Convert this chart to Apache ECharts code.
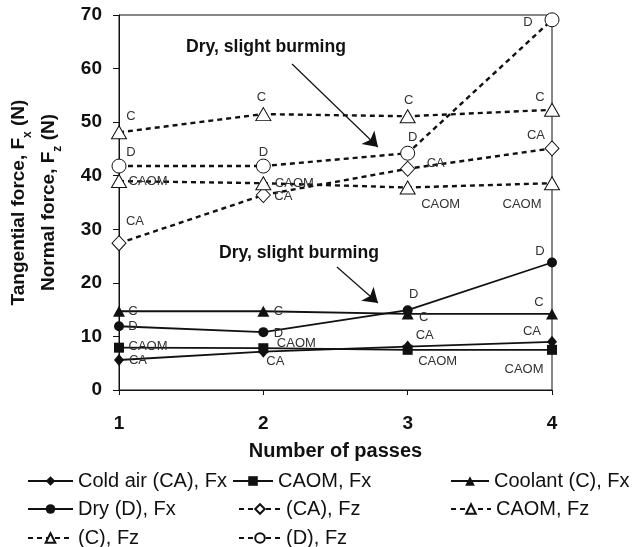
<!DOCTYPE html>
<html>
<head>
<meta charset="utf-8">
<script src="https://cdn.jsdelivr.net/npm/echarts@6/dist/echarts.min.js"></script>
<style>
  html, body { margin: 0; padding: 0; background: #fff; }
  #chart { width: 633px; height: 547px; }
</style>
</head>
<body>
<div id="chart"></div>
<script>
// Cutting forces per pass for four cooling conditions
const passes = [1, 2, 3, 4];

const fxColdAir = [5.6, 7.15, 8.1, 9.0];
const fxCaom = [7.9, 7.8, 7.5, 7.5];
const fxCoolant = [14.7, 14.7, 14.2, 14.2];
const fxDry = [11.9, 10.8, 14.9, 23.8];

const fzColdAir = [27.4, 36.4, 41.3, 45.1];
const fzCaom = [39.0, 38.6, 37.8, 38.6];
const fzCoolant = [48.1, 51.5, 51.1, 52.3];
const fzDry = [41.8, 41.8, 44.2, 69.1];

const seriesNames = [
  'Cold air (CA), Fx', 'CAOM, Fx', 'Coolant (C), Fx', 'Dry (D), Fx',
  '(CA), Fz', 'CAOM, Fz', '(C), Fz', '(D), Fz'
];
const pointTags = ['CA', 'CAOM', 'C', 'D', 'CA', 'CAOM', 'C', 'D'];

const noteText = 'Dry, slight burming';

// label placement (pixel offsets from each marker)
const tagOffsets = [
  [[19, 0], [12, 10], [17, -11], [-20, -10]],
  [[29, -1], [33, -5], [30, 12], [-28, 20]],
  [[14, 0], [15, 0], [16, 3], [-13, -12]],
  [[14, 0], [15, 1], [6, -16], [-12, -11]],
  [[16, -22], [20, 1], [28, -5], [-16, -13]],
  [[29, 0], [31, 0], [33, 17], [-30, 21]],
  [[12, -16], [-2, -17], [1, -16], [-12, -12]],
  [[12, -14], [0, -14], [5, -16], [-24, 3]]
];

// legend slots: [series index, left, top, icon width]
const legendSlots = [
  [0, 27, 471, 45], [1, 232, 471, 40], [2, 450, 471, 38],
  [3, 27, 499, 45], [4, 238, 499, 42], [5, 450, 499, 40],
  [6, 27, 528, 45], [7, 238, 528, 42]
];

const FONT = 'Liberation Sans, Arial, sans-serif';
const INK = '#111';

function points(values, idx) {
  return values.map((v, i) => ({
    value: [passes[i], v],
    label: { offset: tagOffsets[idx][i] }
  }));
}

function makeSeries(idx, values, opts) {
  const dashed = idx >= 4;
  return Object.assign({
    name: seriesNames[idx],
    type: 'line',
    data: points(values, idx),
    symbolKeepAspect: true,
    lineStyle: dashed
      ? { color: INK, width: 2.4, type: [5, 4] }
      : { color: INK, width: 1.8, type: 'solid' },
    itemStyle: dashed
      ? { color: '#fff', borderColor: INK, borderWidth: 1 }
      : { color: INK, borderColor: INK, borderWidth: 0 },
    label: {
      show: true,
      position: 'inside',
      formatter: pointTags[idx],
      color: '#333',
      fontFamily: FONT,
      fontSize: 13,
      align: 'center',
      verticalAlign: 'middle'
    },
    emphasis: { disabled: true },
    animation: false
  }, opts);
}

const series = [
  makeSeries(0, fxColdAir, { symbol: 'diamond', symbolSize: [10, 12], z: 5 }),
  makeSeries(1, fxCaom, { symbol: 'rect', symbolSize: 10, z: 5 }),
  makeSeries(2, fxCoolant, { symbol: 'triangle', symbolSize: [12, 11], z: 5 }),
  makeSeries(3, fxDry, { symbol: 'circle', symbolSize: 10, z: 5 }),
  makeSeries(4, fzColdAir, { symbol: 'diamond', symbolSize: [14, 15] }),
  makeSeries(5, fzCaom, { symbol: 'triangle', symbolSize: [15, 13] }),
  makeSeries(6, fzCoolant, { symbol: 'triangle', symbolSize: [15, 13] }),
  makeSeries(7, fzDry, { symbol: 'circle', symbolSize: 14 })
];

// two callouts, each a bold note with an arrow toward the Dry curves
const notes = [
  { text: [2.018, 64.0], from: [2.199, 60.85], to: [2.794, 45.36] },
  { text: [2.247, 25.6], from: [2.510, 22.96], to: [2.794, 16.24] }
];
series.push({
  type: 'line',
  name: 'notes',
  data: [],
  silent: true,
  markLine: {
    silent: true,
    symbol: ['none', 'arrow'],
    symbolSize: 14,
    label: { show: false },
    lineStyle: { color: INK, width: 1.2, type: 'solid' },
    itemStyle: { color: INK },
    emphasis: { disabled: true },
    data: notes.map(n => [{ coord: n.from }, { coord: n.to }])
  },
  markPoint: {
    silent: true,
    symbol: 'circle',
    symbolSize: 0,
    label: {
      show: true,
      position: 'inside',
      formatter: noteText,
      color: INK,
      fontFamily: FONT,
      fontWeight: 'bold',
      fontSize: 17.6
    },
    data: notes.map(n => ({ coord: n.text }))
  }
});

const legends = legendSlots.map(([idx, left, top, w]) => ({
  left: left,
  top: top,
  padding: 0,
  itemWidth: w,
  itemHeight: 12,
  itemGap: 0,
  selectedMode: false,
  textStyle: { fontFamily: FONT, fontSize: 20, color: INK },
  data: [seriesNames[idx]]
}));

const chart = echarts.init(document.getElementById('chart'), null, { renderer: 'canvas' });
chart.setOption({
  animation: false,
  backgroundColor: '#fff',
  grid: {
    left: 119, right: 81, top: 15, bottom: 157,
    outerBoundsMode: 'none',
    containLabel: false,
    show: true, borderColor: INK, borderWidth: 1, backgroundColor: 'transparent'
  },
  legend: legends,
  xAxis: {
    type: 'value',
    min: 1, max: 4, interval: 1,
    name: 'Number of passes',
    nameLocation: 'middle',
    nameGap: 51,
    nameTextStyle: { fontFamily: FONT, fontWeight: 'bold', fontSize: 20, color: INK },
    axisLine: { lineStyle: { color: INK, width: 1 } },
    axisTick: { show: true, inside: false, length: 5, lineStyle: { color: INK } },
    axisLabel: { fontFamily: FONT, fontWeight: 'bold', fontSize: 19, color: INK, margin: 24 },
    splitLine: { show: false }
  },
  yAxis: {
    type: 'value',
    min: 0, max: 70, interval: 10,
    name: 'Tangential force, F{sub|x} (N)\nNormal force, F{sub|z} (N)',
    nameLocation: 'middle',
    nameRotate: 90,
    nameGap: 55,
    nameTextStyle: {
      fontFamily: FONT, fontWeight: 'bold', fontSize: 19, color: INK, lineHeight: 30,
      rich: {
        sub: { fontFamily: FONT, fontWeight: 'bold', fontSize: 12, color: INK, lineHeight: 20, verticalAlign: 'bottom' }
      }
    },
    axisLine: { show: true, lineStyle: { color: INK, width: 1 } },
    axisTick: { show: true, inside: false, length: 6, lineStyle: { color: INK } },
    axisLabel: { fontFamily: FONT, fontWeight: 'bold', fontSize: 19, color: INK, margin: 17 },
    splitLine: { show: false }
  },
  series: series
});
</script>
</body>
</html>
